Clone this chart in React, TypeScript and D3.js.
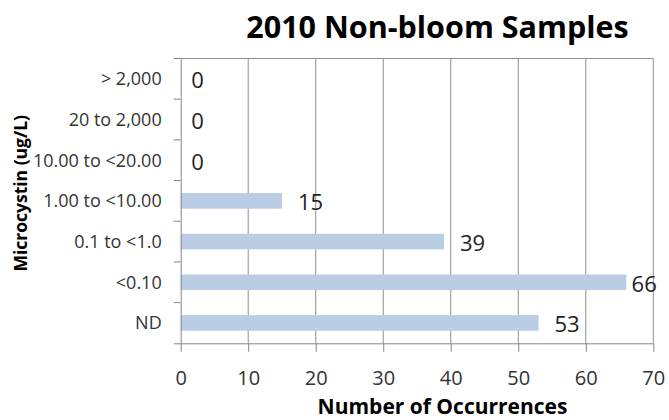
import React, { useEffect, useRef } from 'react';
import { axisBottom, axisLeft, scaleBand, scaleLinear, select } from 'd3';

const categories = ['> 2,000', '20 to 2,000', '10.00 to <20.00', '1.00 to <10.00', '0.1 to <1.0', '<0.10', 'ND'];
const occurrences = [0, 0, 0, 15, 39, 66, 53];
const xTicks = [0, 10, 20, 30, 40, 50, 60, 70];

const FONT = '"Open Sans", "DejaVu Sans", sans-serif';

const App = () => {
  const chartRef = useRef<SVGSVGElement | null>(null);

  useEffect(() => {
    const svg = select(chartRef.current);
    const width = 669;
    const height = 420;
    const margin = { top: 58.5, right: 15.7, bottom: 76.7, left: 180.7 };
    const innerWidth = width - margin.left - margin.right;
    const innerHeight = height - margin.top - margin.bottom;

    svg.selectAll('*').remove();
    svg.attr('width', width).attr('height', height);

    const g = svg.append('g').attr('transform', `translate(${margin.left},${margin.top})`);

    const x = scaleLinear().domain([0, 70]).range([0, innerWidth]);
    const y = scaleBand().domain(categories).range([0, innerHeight]).paddingInner(0.616).paddingOuter(0.308);
    const yTicks = scaleBand().domain(categories).range([0, innerHeight]);

    // gridlines
    g.selectAll('.grid')
      .data(xTicks.slice(1))
      .enter()
      .append('line')
      .attr('x1', (d) => x(d))
      .attr('x2', (d) => x(d))
      .attr('y1', 0)
      .attr('y2', innerHeight)
      .attr('stroke', '#8f8f8f')
      .attr('stroke-width', 1);

    g.append('line')
      .attr('x1', 0)
      .attr('x2', innerWidth)
      .attr('y1', 0)
      .attr('y2', 0)
      .attr('stroke', '#8f8f8f');

    // bars
    g.selectAll('.bar')
      .data(occurrences)
      .enter()
      .append('rect')
      .attr('x', 0)
      .attr('y', (_, i) => y(categories[i]) ?? 0)
      .attr('width', (d) => x(d))
      .attr('height', y.bandwidth())
      .attr('fill', '#b9cde5');

    // x axis
    const xAxis = g
      .append('g')
      .attr('transform', `translate(0,${innerHeight})`)
      .call(axisBottom(x).tickValues(xTicks).tickSize(8.5).tickSizeOuter(0));
    xAxis.select('.domain').attr('stroke', '#868686').attr('d', `M-7,0.5H${innerWidth}`);
    xAxis.selectAll('line').attr('stroke', '#868686');
    xAxis
      .selectAll('text')
      .attr('y', 0)
      .attr('dy', 0)
      .attr('transform', 'translate(0,41.5)')
      .attr('fill', '#333')
      .style('font-family', FONT)
      .style('font-size', '20px');

    // y axis
    const yAxis = g.append('g').call(axisLeft(yTicks).tickSize(0).tickPadding(19));
    yAxis.select('.domain').attr('stroke', '#868686');
    yAxis
      .selectAll('text')
      .attr('fill', '#333')
      .attr('dy', '0.36em')
      .style('font-family', FONT)
      .style('font-size', '18px');
    g.selectAll('.ytick')
      .data(categories)
      .enter()
      .append('line')
      .attr('x1', -7)
      .attr('x2', 0)
      .attr('y1', (d) => yTicks(d) ?? 0)
      .attr('y2', (d) => yTicks(d) ?? 0)
      .attr('stroke', '#868686');

    // data labels
    g.selectAll('.label')
      .data(occurrences)
      .enter()
      .append('text')
      .attr('x', (d) => {
        const pos = x(d) + (d === 0 ? 10.5 : 16);
        return pos + 25 > innerWidth + 3.5 ? innerWidth + 3.5 : pos;
      })
      .attr('text-anchor', (d) => (x(d) + 16 + 25 > innerWidth + 3.5 ? 'end' : 'start'))
      .attr('y', (_, i) => (y(categories[i]) ?? 0) + y.bandwidth() / 2 + 9.5)
      .attr('fill', '#222')
      .style('font-family', FONT)
      .style('font-size', '22px')
      .text((d) => d);

    // titles
    svg
      .append('text')
      .attr('x', 437.5)
      .attr('y', 38.3)
      .attr('text-anchor', 'middle')
      .style('font-family', FONT)
      .style('font-size', '30.5px')
      .style('font-weight', 'bold')
      .text('2010 Non-bloom Samples');

    svg
      .append('text')
      .attr('x', 442.5)
      .attr('y', 413.5)
      .attr('text-anchor', 'middle')
      .style('font-family', FONT)
      .style('font-size', '21px')
      .style('font-weight', 'bold')
      .text('Number of Occurrences');

    svg
      .append('text')
      .attr('transform', 'translate(26.7,193.3) rotate(-90)')
      .attr('text-anchor', 'middle')
      .style('font-family', FONT)
      .style('font-size', '17.5px')
      .style('font-weight', 'bold')
      .text('Microcystin (ug/L)');
  }, []);

  return <svg ref={chartRef} style={{ position: 'absolute', left: 0, top: 0, background: '#fff' }} />;
};

export default App;
